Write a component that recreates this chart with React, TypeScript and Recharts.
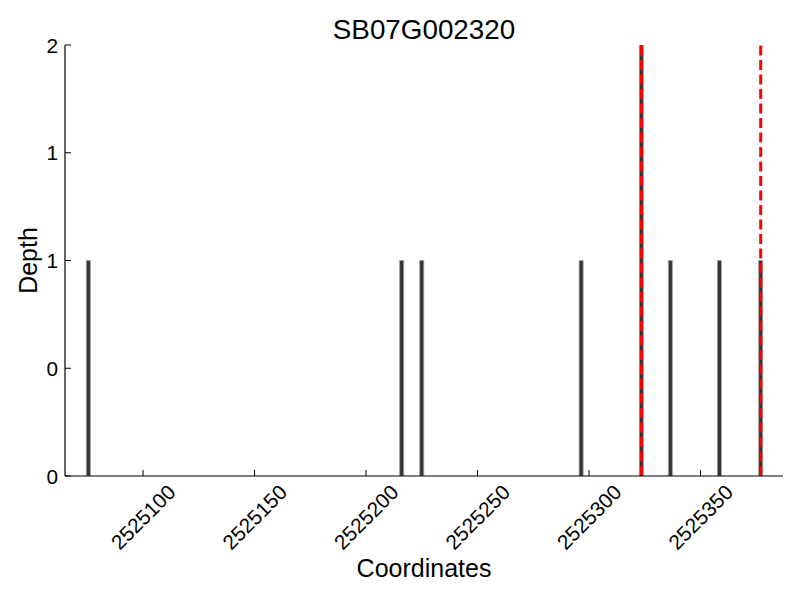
import React from 'react';
import { ComposedChart, Bar, XAxis, YAxis, ReferenceLine, Label } from 'recharts';

const chartTitle = 'SB07G002320';
const xAxisTitle = 'Coordinates';
const yAxisTitle = 'Depth';

const coordinates = [2525075.5, 2525216, 2525225, 2525296.5, 2525323.5, 2525336.5, 2525358.5, 2525377];
const depths = [1, 1, 1, 1, 2, 1, 1, 1];
const markerPositions = [2525323.5, 2525377];

const xTicks = [2525100, 2525150, 2525200, 2525250, 2525300, 2525350];
const xTickLabels = ['2525100', '2525150', '2525200', '2525250', '2525300', '2525350'];
const yTicks = [0, 0.5, 1, 1.5, 2];
const yTickLabels = ['0', '0', '1', '1', '2'];
const xDomain = [2525065, 2525387];
const yDomain = [0, 2];

const data = coordinates.map((c, i) => ({ coord: c, depth: depths[i] }));

const FONT = '"Liberation Sans", Arial, Helvetica, sans-serif';

const XTick = (props: any) => {
  const { x, y, payload } = props;
  const idx = xTicks.indexOf(payload.value);
  const label = idx >= 0 ? xTickLabels[idx] : String(payload.value);
  const cy = y + 41;
  return (
    <g>
      <line x1={x} y1={y} x2={x} y2={y - 6} stroke="#000" strokeWidth={1} />
      <text
        x={x}
        y={cy}
        transform={`rotate(-45 ${x} ${cy})`}
        textAnchor="middle"
        dominantBaseline="central"
        fontSize={20.8}
        fontFamily={FONT}
        fill="#000"
      >
        {label}
      </text>
    </g>
  );
};

const YTick = (props: any) => {
  const { x, y, payload } = props;
  const idx = yTicks.indexOf(payload.value);
  const label = idx >= 0 ? yTickLabels[idx] : String(payload.value);
  return (
    <g>
      <line x1={x} y1={y} x2={x + 6} y2={y} stroke="#000" strokeWidth={1} />
      <text
        x={x - 7}
        y={y}
        textAnchor="end"
        dominantBaseline="central"
        fontSize={20.8}
        fontFamily={FONT}
        fill="#000"
      >
        {label}
      </text>
    </g>
  );
};

const XLabel = (props: any) => {
  const vb = props.viewBox || {};
  return (
    <text
      x={vb.x + vb.width / 2}
      y={vb.y + 92}
      textAnchor="middle"
      dominantBaseline="central"
      fontSize={25}
      fontFamily={FONT}
      fill="#000"
    >
      {xAxisTitle}
    </text>
  );
};

const YLabel = (props: any) => {
  const vb = props.viewBox || {};
  const cx = 28;
  const cy = vb.y + vb.height / 2;
  return (
    <text
      x={cx}
      y={cy}
      transform={`rotate(-90 ${cx} ${cy})`}
      textAnchor="middle"
      dominantBaseline="central"
      fontSize={25}
      fontFamily={FONT}
      fill="#000"
    >
      {yAxisTitle}
    </text>
  );
};

export default function App() {
  return (
    <div
      style={{
        position: 'absolute',
        left: 0,
        top: 0,
        width: 800,
        height: 600,
        background: '#fff',
        fontFamily: FONT,
      }}
    >
      <div
        style={{
          position: 'absolute',
          left: 65,
          width: 718,
          top: 13,
          height: 34,
          lineHeight: '34px',
          textAlign: 'center',
          fontSize: 27.8,
          color: '#000',
        }}
      >
        {chartTitle}
      </div>
      <ComposedChart
        width={800}
        height={600}
        data={data}
        margin={{ top: 45, right: 17, left: 0, bottom: 0 }}
      >
        <XAxis
          type="number"
          dataKey="coord"
          domain={xDomain}
          allowDataOverflow
          ticks={xTicks}
          interval={0}
          height={124}
          tickSize={0}
          tickMargin={0}
          tickLine={false}
          tick={<XTick />}
          axisLine={{ stroke: '#000', strokeWidth: 1.2 }}
        >
          <Label content={<XLabel />} />
        </XAxis>
        <YAxis
          type="number"
          domain={yDomain}
          allowDataOverflow
          ticks={yTicks}
          interval={0}
          width={65}
          tickSize={0}
          tickMargin={0}
          tickLine={false}
          tick={<YTick />}
          axisLine={{ stroke: '#000', strokeWidth: 1.2 }}
        >
          <Label content={<YLabel />} />
        </YAxis>
        <Bar
          dataKey="depth"
          barSize={4}
          fill="#333333"
          stroke="#a0a0a0"
          strokeWidth={0.8}
          isAnimationActive={false}
        />
        {markerPositions.map((m, i) => (
          <ReferenceLine
            key={i}
            x={m}
            stroke="#ff0000"
            strokeWidth={3}
            strokeDasharray="10 4.5"
            ifOverflow="extendDomain"
          />
        ))}
      </ComposedChart>
    </div>
  );
}
